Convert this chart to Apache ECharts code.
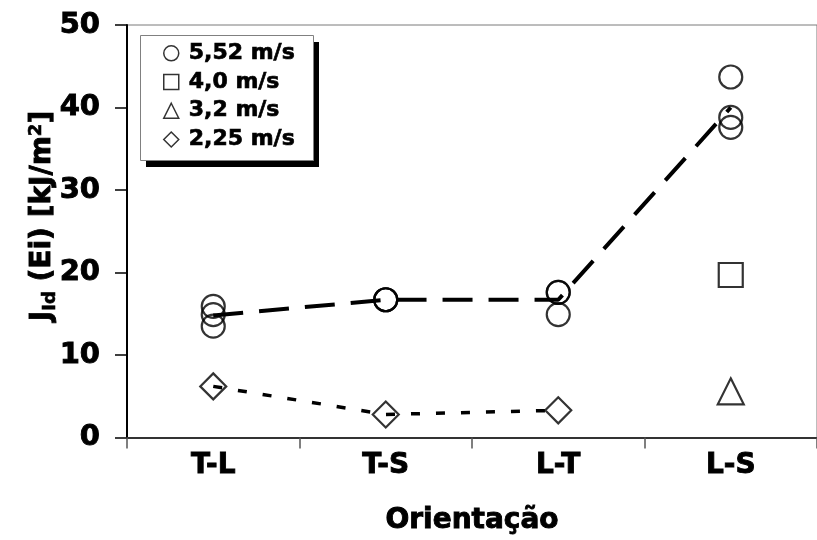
<!DOCTYPE html>
<html>
<head>
<meta charset="utf-8">
<script src="https://cdn.jsdelivr.net/npm/echarts@6/dist/echarts.min.js"></script>
<style>
  html, body { margin: 0; padding: 0; background: #fff; }
  #chart { width: 817px; height: 540px; }
</style>
</head>
<body>
<div id="chart"></div>
<script>
// Orientations of the specimens
const categories = ['T-L', 'T-S', 'L-T', 'L-S'];
const yTicks = { min: 0, max: 50, interval: 10 };

// 5,52 m/s – individual tests (orientation, J value)
const circleCats = ['T-L', 'T-L', 'T-L', 'T-S', 'T-S', 'T-S', 'L-T', 'L-T', 'L-T', 'L-S', 'L-S', 'L-S'];
const circleVals = [15.9, 14.9, 13.5, 16.7, 16.7, 16.7, 17.6, 17.6, 14.9, 43.7, 38.8, 37.6];
// 4,0 m/s
const squareCats = ['L-S'];
const squareVals = [19.7];
// 3,2 m/s
const triangleCats = ['L-S'];
const triangleVals = [5.6];
// 2,25 m/s
const diamondCats = ['T-L', 'T-S', 'L-T'];
const diamondVals = [6.2, 2.8, 3.3];
// average trend of the 5,52 m/s tests
const meanVals = [14.8, 16.7, 16.7, 40.0];

const FONT = '"DejaVu Sans", Arial, sans-serif';
// heavy lettering: bold face plus a thin outline of the same colour
const heavy = { fontFamily: FONT, fontWeight: 'bold', color: '#000', textBorderColor: '#000', textBorderWidth: 0.9 };
const pairs = (cats, vals) => cats.map((c, i) => [c, vals[i]]);

const markerStyle = { color: 'rgba(0,0,0,0)', borderColor: '#000', borderWidth: 2.2 };

const chart = echarts.init(document.getElementById('chart'), null, { renderer: 'canvas' });
chart.setOption({
  backgroundColor: '#fff',
  animation: false,
  grid: {
    left: 127, top: 25, width: 702, height: 414, containLabel: false,
    show: true, borderColor: '#7a7a7a', borderWidth: 1, backgroundColor: 'rgba(0,0,0,0)'
  },
  // legend frame with its drop shadow, and the rotated y-axis title
  graphic: [
    { type: 'rect', left: 146, top: 42, z: 10, shape: { width: 173, height: 125 }, style: { fill: '#000' } },
    { type: 'rect', left: 140, top: 35, z: 11, shape: { width: 173, height: 125 }, style: { fill: '#fff', stroke: '#808080', lineWidth: 1 } },
    {
      type: 'text', z: 12, rotation: Math.PI / 2, x: 43, y: 216,
      style: {
        text: '{a|J}{s|Id}{a| (Ei) [kJ/m}{p|2}{a|]}',
        align: 'center', verticalAlign: 'middle',
        rich: {
          a: { fontFamily: FONT, fontWeight: 'bold', fontSize: 28, lineHeight: 32, fill: '#000', stroke: '#000', lineWidth: 0.9 },
          s: { fontFamily: FONT, fontWeight: 'bold', fontSize: 18, lineHeight: 16, verticalAlign: 'bottom', fill: '#000', stroke: '#000', lineWidth: 0.6 },
          p: { fontFamily: FONT, fontWeight: 'bold', fontSize: 18, lineHeight: 16, verticalAlign: 'top', fill: '#000', stroke: '#000', lineWidth: 0.6 }
        }
      }
    }
  ],
  legend: {
    orient: 'vertical',
    left: 163, top: 42,
    padding: 0,
    itemGap: 6,
    itemWidth: 15, itemHeight: 15,
    z: 20,
    itemStyle: { color: 'rgba(0,0,0,0)', borderColor: '#000', borderWidth: 1.5 },
    textStyle: Object.assign({}, heavy, { fontSize: 22, lineHeight: 22, textBorderWidth: 0.7, padding: [0, 0, 0, 5] }),
    data: ['5,52 m/s', '4,0 m/s', '3,2 m/s', '2,25 m/s']
  },
  xAxis: {
    type: 'category',
    data: categories,
    boundaryGap: true,
    axisLine: { lineStyle: { color: '#333', width: 2 } },
    axisTick: { show: true, inside: false, length: 11, alignWithLabel: false, lineStyle: { color: '#555', width: 1.5 } },
    axisLabel: Object.assign({}, heavy, { fontSize: 28, margin: 14 }),
    name: 'Orientação',
    nameLocation: 'middle',
    nameGap: 69,
    nameTextStyle: Object.assign({}, heavy, { fontSize: 28 }),
    splitLine: { show: false }
  },
  yAxis: {
    type: 'value',
    min: yTicks.min, max: yTicks.max, interval: yTicks.interval,
    axisLine: { show: true, lineStyle: { color: '#000', width: 2 } },
    axisTick: { show: true, inside: false, length: 12, lineStyle: { color: '#000', width: 1.5 } },
    axisLabel: Object.assign({}, heavy, { fontSize: 29, margin: 27 }),
    splitLine: { show: false }
  },
  series: [
    {
      name: 'mean', type: 'line', data: meanVals, showSymbol: false, symbol: 'none',
      lineStyle: { color: '#000', width: 4, type: [30, 16] }, z: 3, silent: true
    },
    {
      name: 'trend 2,25', type: 'line', data: diamondVals, showSymbol: false, symbol: 'none',
      lineStyle: { color: '#000', width: 3.5, type: [9, 16] }, z: 3, silent: true
    },
    { name: '5,52 m/s', type: 'scatter', symbol: 'circle', symbolSize: 23, data: pairs(circleCats, circleVals), itemStyle: markerStyle, z: 4 },
    { name: '4,0 m/s', type: 'scatter', symbol: 'rect', symbolSize: 24, data: pairs(squareCats, squareVals), itemStyle: markerStyle, z: 4 },
    { name: '3,2 m/s', type: 'scatter', symbol: 'triangle', symbolSize: 26, data: pairs(triangleCats, triangleVals), itemStyle: markerStyle, z: 4 },
    { name: '2,25 m/s', type: 'scatter', symbol: 'diamond', symbolSize: 26, data: pairs(diamondCats, diamondVals), itemStyle: markerStyle, z: 4 }
  ]
});
</script>
</body>
</html>
